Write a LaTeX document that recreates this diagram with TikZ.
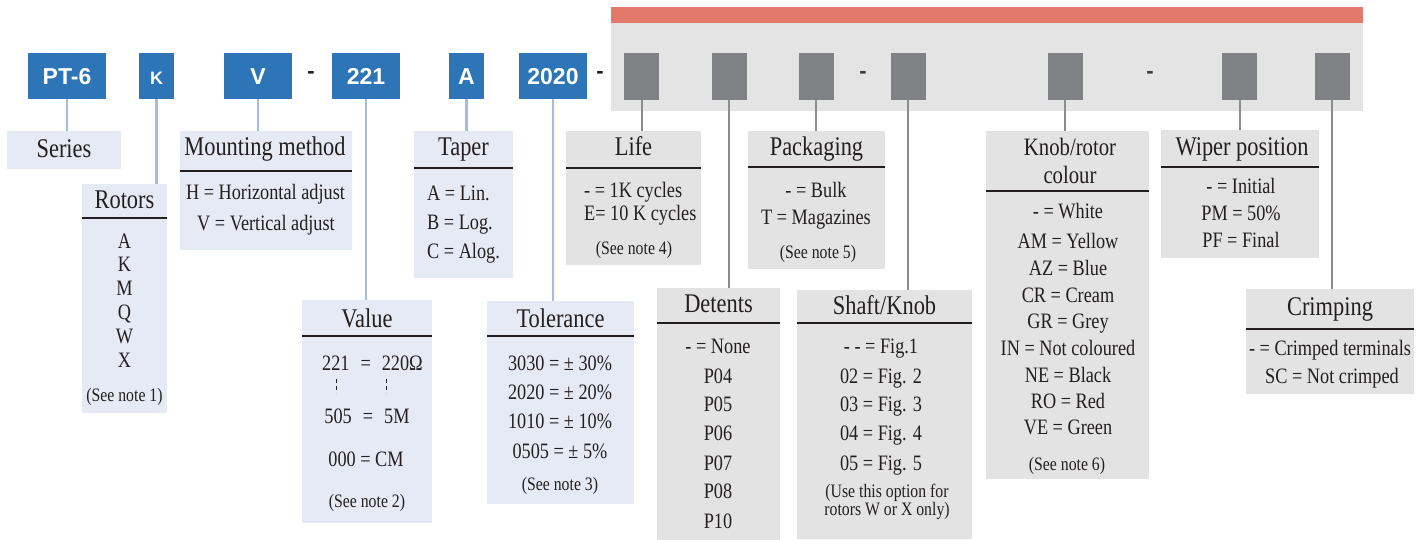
\documentclass[tikz,border=0pt]{standalone}
\usepackage{fontspec}
\setmainfont[FakeStretch=0.83]{Liberation Serif}
\newfontfamily\codefont{Liberation Sans}

\definecolor{codeblue}{HTML}{2E75B8}
\definecolor{slotgrey}{HTML}{818285}
\definecolor{bggrey}{HTML}{E4E4E4}
\definecolor{barred}{HTML}{E3796A}
\definecolor{boxblue}{HTML}{E6EAF5}
\definecolor{boxgrey}{HTML}{E3E3E3}
\definecolor{linkblue}{HTML}{A3BCE3}
\definecolor{linkgrey}{HTML}{8C8C8C}
\definecolor{ink}{HTML}{231F20}
\definecolor{dashgrey}{HTML}{3C3C3C}

\begin{document}
\begin{tikzpicture}[x=1pt,y=-1pt,
    codebox/.style={fill=codeblue,text=white,inner sep=0pt,minimum height=46pt,
        text height=17pt,text depth=0pt,font=\codefont\bfseries\fontsize{23}{23}\selectfont},
    slotbox/.style={fill=slotgrey,inner sep=0pt,minimum width=35pt,minimum height=47pt},
    dashsign/.style={text=ink,inner sep=0pt,font=\codefont\bfseries\fontsize{22}{22}\selectfont},
    bluebox/.style={fill=boxblue,inner sep=0pt,anchor=north west},
    greybox/.style={fill=boxgrey,inner sep=0pt,anchor=north west},
    title/.style={text=ink,inner sep=0pt,anchor=mid,yshift=-5pt,font=\fontsize{27}{27}\selectfont},
    item/.style={text=ink,inner sep=0pt,anchor=mid,yshift=-5pt,font=\fontsize{22}{22}\selectfont},
    note/.style={text=ink,inner sep=0pt,anchor=mid,yshift=-4.3pt,font=\fontsize{19}{19}\selectfont},
    rule/.style={draw=ink,line width=2.6pt},
    bluelink/.style={draw=linkblue,line width=2.4pt},
    greylink/.style={draw=linkgrey,line width=2pt},
    ]
\useasboundingbox (0,0) rectangle (1427,540);

%-------------------------------------------- Code row
\node[codebox,minimum width=78pt] (pt6) at (67,76) {PT-6};
\node[codebox,minimum width=35pt,font=\codefont\bfseries\fontsize{18}{18}\selectfont] (rk) at (156.5,76) {K};
\node[codebox,minimum width=68pt] (mv) at (258,76) {V};
\node[dashsign] (d1) at (311,75) {-};
\node[codebox,minimum width=68pt] (val) at (366,76) {221};
\node[codebox,minimum width=35pt] (tp) at (466.5,76) {A};
\node[codebox,minimum width=68pt] (tol) at (553,76) {2020};
\node[dashsign] (d2) at (600,75) {-};

%-------------------------------------------- Options area
\fill[bggrey] (611,23) rectangle (1363,111);   % grey field
\fill[barred] (611,7) rectangle (1363,23);     % red bar

\node[slotbox] (s1) at (641.5,76.5) {};
\node[slotbox] (s2) at (729,76.5) {};
\node[slotbox] (s3) at (816,76.5) {};
\node[dashsign,text=dashgrey] (d3) at (863,75) {-};
\node[slotbox] (s4) at (908,76.5) {};
\node[slotbox] (s5) at (1065,76.5) {};
\node[dashsign,text=dashgrey] (d4) at (1150,75) {-};
\node[slotbox] (s6) at (1239.5,76.5) {};
\node[slotbox] (s7) at (1332,76.5) {};

%-------------------------------------------- Series
\node[bluebox,minimum width=114pt,minimum height=38pt] (series) at (7,131) {};
\node[title] (seriesT) at (64,150) {Series};

%-------------------------------------------- Rotors
\node[bluebox,minimum width=85pt,minimum height=229pt] (rotors) at (82,184) {};
\node[title] (rotorsT) at (124.5,201) {Rotors};
\draw[rule] (rotors.west |- 0,218) -- (rotors.east |- 0,218);
\node[item] (rot1) at (124.5,241) {A};
\node[item] (rot2) at (124.5,264) {K};
\node[item] (rot3) at (124.5,288) {M};
\node[item] (rot4) at (124.5,312) {Q};
\node[item] (rot5) at (124.5,336) {W};
\node[item] (rot6) at (124.5,360) {X};
\node[note] (rotN) at (124.5,395) {(See note 1)};

%-------------------------------------------- Mounting method
\node[bluebox,minimum width=172pt,minimum height=119pt] (mount) at (180,131) {};
\node[title] (mountT) at (265,148) {Mounting method};
\draw[rule] (mount.west |- 0,171) -- (mount.east |- 0,171);
\node[item] (mount1) at (265.5,192) {H = Horizontal adjust};
\node[item] (mount2) at (266,223) {V = Vertical adjust};

%-------------------------------------------- Value
\node[bluebox,minimum width=130pt,minimum height=223pt] (value) at (302,300) {};
\node[title] (valueT) at (367,320) {Value};
\draw[rule] (value.west |- 0,336) -- (value.east |- 0,336);
\node[item] (value1) at (372.5,363) {221\enspace=\enspace220Ω};
\draw[ink,line width=1pt,dash pattern=on 4pt off 3pt] (336,379) -- (336,393); % ellipsis marks
\draw[ink,line width=1pt,dash pattern=on 4pt off 3pt] (386,379) -- (386,393);
\node[item] (value2) at (367,416) {505\enspace=\enspace5M};
\node[item] (value3) at (366,459) {000 = CM};
\node[note] (valueN) at (367,501) {(See note 2)};

%-------------------------------------------- Taper
\node[bluebox,minimum width=99pt,minimum height=147pt] (taper) at (414,131) {};
\node[title] (taperT) at (463.5,148) {Taper};
\draw[rule] (taper.west |- 0,168) -- (taper.east |- 0,168);
\node[item,anchor=mid west] (taper1) at (427,193) {A = Lin.};
\node[item,anchor=mid west] (taper2) at (427,222) {B = Log.};
\node[item,anchor=mid west] (taper3) at (427,251) {C = Alog.};

%-------------------------------------------- Tolerance
\node[bluebox,minimum width=147pt,minimum height=203pt] (tolb) at (487,301) {};
\node[title] (tolT) at (560.5,320) {Tolerance};
\draw[rule] (tolb.west |- 0,336) -- (tolb.east |- 0,336);
\node[item] (tol1) at (560,363) {3030 = ± 30\%};
\node[item] (tol2) at (560,392) {2020 = ± 20\%};
\node[item] (tol3) at (560,421) {1010 = ± 10\%};
\node[item] (tol4) at (560,451) {0505 = ± 5\%};
\node[note] (tolN) at (560,484) {(See note 3)};

%-------------------------------------------- Life
\node[greybox,minimum width=135pt,minimum height=134pt] (life) at (566,131) {};
\node[title] (lifeT) at (633.5,148) {Life};
\draw[rule] (life.west |- 0,168) -- (life.east |- 0,168);
\node[item,anchor=mid west] (life1) at (584,190) {- = 1K cycles};
\node[item,anchor=mid west] (life2) at (584,213) {E= 10 K cycles};
\node[note] (lifeN) at (634,248) {(See note 4)};

%-------------------------------------------- Packaging
\node[greybox,minimum width=137pt,minimum height=138pt] (pack) at (748,131) {};
\node[title] (packT) at (816.5,148) {Packaging};
\draw[rule] (pack.west |- 0,167) -- (pack.east |- 0,167);
\node[item] (pack1) at (816,190) {- = Bulk};
\node[item] (pack2) at (816,217) {T = Magazines};
\node[note] (packN) at (818,252) {(See note 5)};

%-------------------------------------------- Detents
\node[greybox,minimum width=123pt,minimum height=252pt] (det) at (657,288) {};
\node[title] (detT) at (718.5,305) {Detents};
\draw[rule] (det.west |- 0,323) -- (det.east |- 0,323);
\node[item] (det1) at (718,346) {- = None};
\node[item] (det2) at (718,376) {P04};
\node[item] (det3) at (718,404) {P05};
\node[item] (det4) at (718,433) {P06};
\node[item] (det5) at (718,463) {P07};
\node[item] (det6) at (718,491) {P08};
\node[item] (det7) at (718,521) {P10};

%-------------------------------------------- Shaft/Knob
\node[greybox,minimum width=175pt,minimum height=249pt] (shaft) at (797,290) {};
\node[title] (shaftT) at (884.5,307) {Shaft/Knob};
\draw[rule] (shaft.west |- 0,323) -- (shaft.east |- 0,323);
\node[item] (shaft1) at (881,346) {- - = Fig.1};
\node[item] (shaft2) at (881,376) {02 = Fig. 2};
\node[item] (shaft3) at (881,404) {03 = Fig. 3};
\node[item] (shaft4) at (881,433) {04 = Fig. 4};
\node[item] (shaft5) at (881,463) {05 = Fig. 5};
\node[note,align=center,anchor=north,yshift=0.3pt] (shaftN) at (887,480) {(Use this option for\\[-1pt]rotors W or X only)};

%-------------------------------------------- Knob/rotor colour
\node[greybox,minimum width=163pt,minimum height=348pt] (knob) at (986,131) {};
\node[title,align=center,anchor=north,font=\fontsize{25}{27.5}\selectfont] (knobT) at (1070,133.3) {Knob/rotor\\colour};
\draw[rule] (knob.west |- 0,191) -- (knob.east |- 0,191);
\node[item] (knob1) at (1068,211) {- = White};
\node[item] (knob2) at (1068,241) {AM = Yellow};
\node[item] (knob3) at (1068,268) {AZ = Blue};
\node[item] (knob4) at (1068,295) {CR = Cream};
\node[item] (knob5) at (1068,321) {GR = Grey};
\node[item] (knob6) at (1068,348) {IN = Not coloured};
\node[item] (knob7) at (1068,375) {NE = Black};
\node[item] (knob8) at (1068,401) {RO = Red};
\node[item] (knob9) at (1068,427) {VE = Green};
\node[note] (knobN) at (1067,464) {(See note 6)};

%-------------------------------------------- Wiper position
\node[greybox,minimum width=158pt,minimum height=128pt] (wiper) at (1161,130) {};
\node[title] (wiperT) at (1242,148) {Wiper position};
\draw[rule] (wiper.west |- 0,167) -- (wiper.east |- 0,167);
\node[item] (wiper1) at (1241,186) {- = Initial};
\node[item] (wiper2) at (1241,213) {PM = 50\%};
\node[item] (wiper3) at (1241,240) {PF = Final};

%-------------------------------------------- Crimping
\node[greybox,minimum width=168pt,minimum height=105pt] (crimp) at (1246,289) {};
\node[title] (crimpT) at (1330,308) {Crimping};
\draw[rule] (crimp.west |- 0,329) -- (crimp.east |- 0,329);
\node[item] (crimp1) at (1330,348) {- = Crimped terminals};
\node[item] (crimp2) at (1332,376) {SC = Not crimped};

%-------------------------------------------- Links
\draw[bluelink] (pt6.south) -- (pt6.south |- series.north);
\draw[bluelink] (rk.south) -- (rk.south |- rotors.north);
\draw[bluelink] (mv.south) -- (mv.south |- mount.north);
\draw[bluelink] (val.south) -- (val.south |- value.north);
\draw[bluelink] (tp.south) -- (tp.south |- taper.north);
\draw[bluelink] (tol.south) -- (tol.south |- tolb.north);

\draw[greylink] (s1.south) -- (s1.south |- life.north);
\draw[greylink] (s2.south) -- (s2.south |- det.north);
\draw[greylink] (s3.south) -- (s3.south |- pack.north);
\draw[greylink] (s4.south) -- (s4.south |- shaft.north);
\draw[greylink] (s5.south) -- (s5.south |- knob.north);
\draw[greylink] (s6.south) -- (s6.south |- wiper.north);
\draw[greylink] (s7.south) -- (s7.south |- crimp.north);

\end{tikzpicture}
\end{document}
